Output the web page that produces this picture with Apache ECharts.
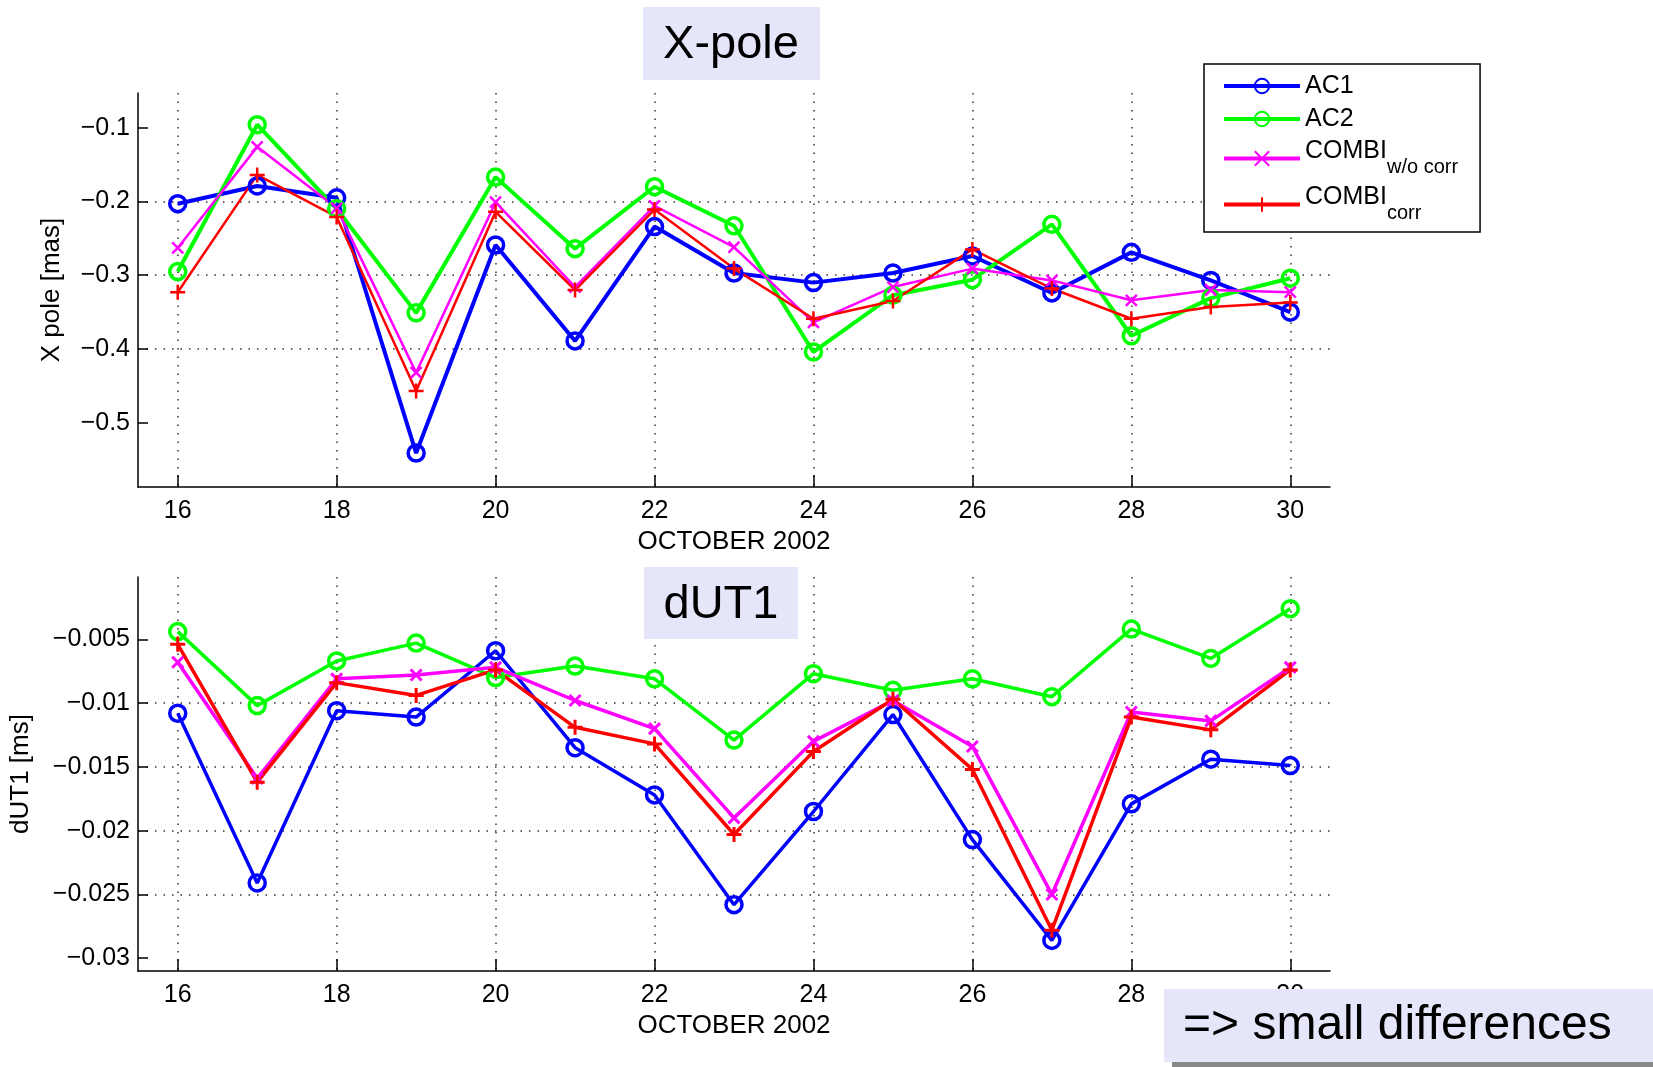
<!DOCTYPE html>
<html>
<head>
<meta charset="utf-8">
<title>X-pole / dUT1</title>
<script src="https://cdn.jsdelivr.net/npm/echarts@6/dist/echarts.min.js"></script>
<style>
html,body{margin:0;padding:0;background:#fff;}
#chart{width:1653px;height:1067px;}
</style>
</head>
<body>
<div id="chart"></div>
<script>
// days of October 2002
var days = [16, 17, 18, 19, 20, 21, 22, 23, 24, 25, 26, 27, 28, 29, 30];

// X pole [mas]
var xpoleAC1      = [-0.203, -0.179, -0.195, -0.541, -0.259, -0.389, -0.234, -0.297, -0.310, -0.297, -0.274, -0.324, -0.269, -0.307, -0.350];
var xpoleAC2      = [-0.295, -0.096, -0.210, -0.351, -0.167, -0.264, -0.180, -0.233, -0.404, -0.327, -0.306, -0.231, -0.382, -0.331, -0.304];
var xpoleCombiWo  = [-0.263, -0.126, -0.209, -0.432, -0.201, -0.316, -0.206, -0.262, -0.364, -0.316, -0.291, -0.307, -0.334, -0.320, -0.323];
var xpoleCombi    = [-0.323, -0.164, -0.221, -0.457, -0.214, -0.320, -0.211, -0.291, -0.359, -0.335, -0.265, -0.318, -0.359, -0.343, -0.337];

// dUT1 [ms]
var dut1AC1       = [-0.0108, -0.0241, -0.0106, -0.0111, -0.0059, -0.0135, -0.0172, -0.0258, -0.0185, -0.0109, -0.0207, -0.0286, -0.0179, -0.0144, -0.0149];
var dut1AC2       = [-0.0044, -0.0102, -0.0067, -0.0053, -0.0080, -0.0071, -0.0081, -0.0129, -0.0077, -0.0090, -0.0081, -0.0095, -0.0042, -0.0065, -0.0026];
var dut1CombiWo   = [-0.0068, -0.0159, -0.0081, -0.0078, -0.0072, -0.0098, -0.0120, -0.0190, -0.0130, -0.0098, -0.0134, -0.0250, -0.0107, -0.0114, -0.0072];
var dut1Combi     = [-0.0054, -0.0162, -0.0084, -0.0094, -0.0074, -0.0119, -0.0132, -0.0203, -0.0138, -0.0097, -0.0152, -0.0278, -0.0111, -0.0121, -0.0074];

// tick labels
var dayTicks   = [16, 18, 20, 22, 24, 26, 28, 30];
var xpoleTicks = [-0.5, -0.4, -0.3, -0.2, -0.1];
var dut1Ticks  = [-0.03, -0.025, -0.02, -0.015, -0.01, -0.005];

var FONT = 'Liberation Sans, Arial, Helvetica, sans-serif';
var SYM_X = 'path://M0,0L10,10M10,0L0,10';
var SYM_PLUS = 'path://M5,0L5,10M0,5L10,5';

function pairs(vals) {
    return days.map(function (d, i) { return [d, vals[i]]; });
}
function minusLabel(v) {
    return '\u2212' + (+Math.abs(v).toFixed(4));
}

function xAxisOpt(gi) {
    return {
        type: 'value', gridIndex: gi, min: 15.5, max: 30.5,
        splitNumber: 7, minInterval: 2, maxInterval: 2,
        name: 'OCTOBER 2002', nameLocation: 'middle', nameGap: 42,
        nameTextStyle: {fontSize: 26, color: '#000', fontFamily: FONT},
        axisLine: {onZero: false, lineStyle: {color: '#000', width: 1.5}},
        axisTick: {inside: true, length: 12, customValues: dayTicks, lineStyle: {color: '#000', width: 1.5}},
        axisLabel: {customValues: dayTicks, fontSize: 25, color: '#000', margin: 12, fontFamily: FONT},
        splitLine: {show: true, showMinLine: true, showMaxLine: true,
            lineStyle: {color: '#333', width: 1.5, type: [1.5, 7]}}
    };
}
function yAxisOpt(gi, name, min, max, step, ticks, gap) {
    return {
        type: 'value', gridIndex: gi, min: min, max: max,
        minInterval: step, maxInterval: step, splitNumber: 6,
        name: name, nameLocation: 'middle', nameGap: gap,
        nameTextStyle: {fontSize: 26, color: '#000', fontFamily: FONT},
        axisLine: {show: true, onZero: false, lineStyle: {color: '#000', width: 1.5}},
        axisTick: {show: true, inside: true, length: 10, customValues: ticks, lineStyle: {color: '#000', width: 1.5}},
        axisLabel: {customValues: ticks, fontSize: 25, color: '#000', margin: 8, fontFamily: FONT, formatter: minusLabel},
        splitLine: {show: true, showMinLine: false, showMaxLine: false,
            lineStyle: {color: '#333', width: 1.5, type: [1.5, 7]}}
    };
}
function lineSeries(name, gi, vals, color, symbol, size, lw, mw) {
    return {
        name: name, type: 'line', xAxisIndex: gi, yAxisIndex: gi,
        data: pairs(vals),
        symbol: symbol, symbolSize: size, showAllSymbol: true,
        lineStyle: {color: color, width: lw},
        itemStyle: {color: 'rgba(0,0,0,0)', borderColor: color, borderWidth: mw},
        emphasis: {disabled: true}
    };
}

var chart = echarts.init(document.getElementById('chart'));
chart.setOption({
    animation: false,
    backgroundColor: '#fff',
    grid: [
        {left: 138, top: 93, width: 1192, height: 394},
        {left: 138, top: 577, width: 1192, height: 394}
    ],
    xAxis: [xAxisOpt(0), xAxisOpt(1)],
    yAxis: [
        yAxisOpt(0, 'X pole [mas]', -0.587, -0.053, 0.1, xpoleTicks, 73),
        yAxisOpt(1, 'dUT1 [ms]', -0.031, -0.00012, 0.005, dut1Ticks, 104)
    ],
    legend: {
        orient: 'vertical', left: 1204, top: 64,
        padding: [9, 22, 8, 18], itemGap: 7, itemWidth: 76, itemHeight: 18,
        backgroundColor: '#fff', borderColor: '#000', borderWidth: 1.5,
        data: ['AC1', 'AC2', 'COMBI w/o corr', 'COMBI corr'],
        lineStyle: {width: 4},
        formatter: function (name) {
            if (name === 'COMBI w/o corr') return '{a|COMBI}{b|w/o corr}';
            if (name === 'COMBI corr') return '{a|COMBI}{b|corr}';
            return name;
        },
        textStyle: {
            fontSize: 25, lineHeight: 26, color: '#000', fontFamily: FONT,
            rich: {
                a: {fontSize: 25, lineHeight: 24, padding: [0, 0, 14, 0], color: '#000', fontFamily: FONT},
                b: {fontSize: 20, lineHeight: 18, padding: [18, 0, 0, 0], color: '#000', fontFamily: FONT}
            }
        },
        selectedMode: false
    },
    series: [
        lineSeries('AC1', 0, xpoleAC1, '#0000ff', 'circle', 16, 4, 3.5),
        lineSeries('AC2', 0, xpoleAC2, '#00ff00', 'circle', 16, 4, 3.5),
        lineSeries('COMBI w/o corr', 0, xpoleCombiWo, '#ff00ff', SYM_X, 11, 2.5, 2.5),
        lineSeries('COMBI corr', 0, xpoleCombi, '#ff0000', SYM_PLUS, 15, 2.5, 2.5),
        lineSeries('AC1', 1, dut1AC1, '#0000ff', 'circle', 16, 3.5, 3.5),
        lineSeries('AC2', 1, dut1AC2, '#00ff00', 'circle', 16, 3.5, 3.5),
        lineSeries('COMBI w/o corr', 1, dut1CombiWo, '#ff00ff', SYM_X, 11, 3.5, 3),
        lineSeries('COMBI corr', 1, dut1Combi, '#ff0000', SYM_PLUS, 15, 3.5, 3)
    ],
    graphic: [
        {type: 'rect', z: 100, shape: {x: 643, y: 7, width: 177, height: 73}, style: {fill: '#e6e6fa'}},
        {type: 'text', z: 101, x: 731, y: 45, style: {text: 'X-pole', font: '47px ' + FONT, fill: '#000', align: 'center', verticalAlign: 'middle'}},
        {type: 'rect', z: 100, shape: {x: 644, y: 567, width: 154, height: 72}, style: {fill: '#e6e6fa'}},
        {type: 'text', z: 101, x: 721, y: 605, style: {text: 'dUT1', font: '47px ' + FONT, fill: '#000', align: 'center', verticalAlign: 'middle'}},
        {type: 'rect', z: 100, shape: {x: 1172, y: 997, width: 490, height: 80}, style: {fill: '#888'}},
        {type: 'rect', z: 101, shape: {x: 1164, y: 989, width: 500, height: 73}, style: {fill: '#e6e6fa'}},
        {type: 'text', z: 102, x: 1183, y: 1026, style: {text: '=> small differences', font: '48px ' + FONT, fill: '#000', align: 'left', verticalAlign: 'middle'}}
    ]
});
</script>
</body>
</html>
